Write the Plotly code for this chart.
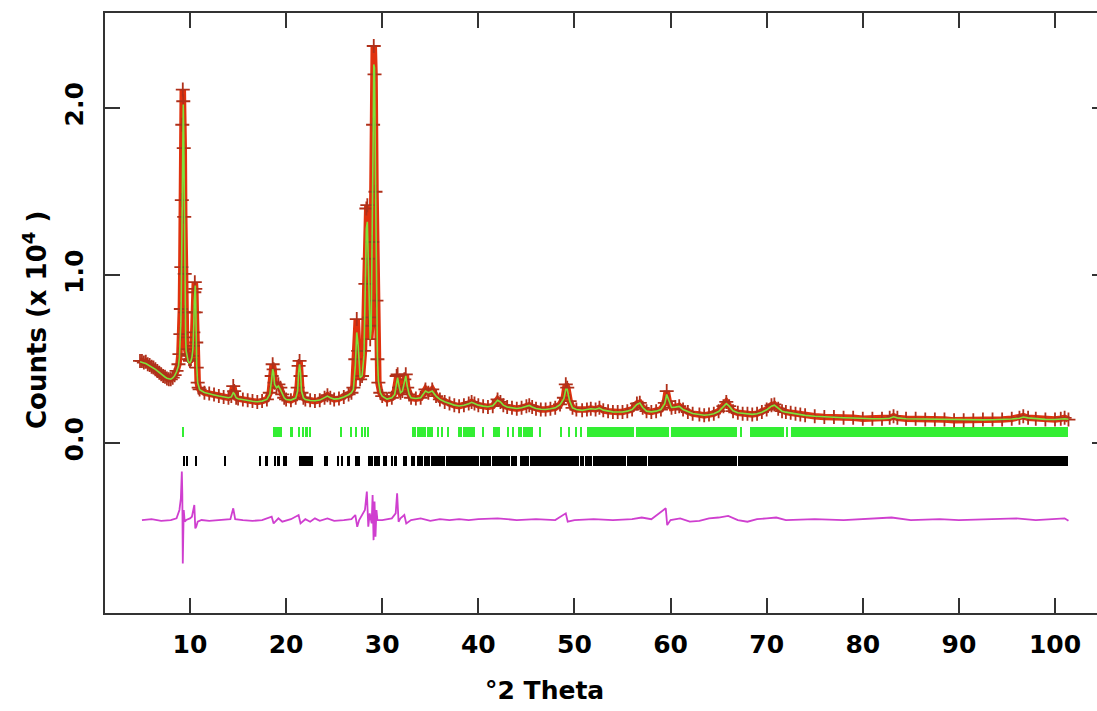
import plotly.graph_objects as go

# ---------------- data (counts in units of 10^4) ----------------
two_theta = [
    4.8, 5.0, 5.2, 5.4, 5.6, 5.8, 6.0, 6.2, 6.4, 6.6,
    6.8, 7.0, 7.2, 7.4, 7.6, 7.8, 8.0, 8.2, 8.4, 8.6,
    8.8, 8.9, 9.0, 9.05, 9.1, 9.15, 9.2, 9.25, 9.3, 9.35,
    9.4, 9.45, 9.5, 9.55, 9.6, 9.7, 9.8, 9.9, 10.0, 10.1,
    10.2, 10.3, 10.35, 10.4, 10.45, 10.5, 10.55, 10.6, 10.65, 10.7,
    10.8, 10.9, 11.0, 11.5, 12.0, 12.5, 13.0, 13.5, 14.0, 14.3,
    14.5, 14.6, 14.8, 15.0, 15.5, 16.0, 16.5, 17.0, 17.5, 18.0,
    18.3, 18.5, 18.6, 18.7, 18.8, 19.0, 19.2, 19.4, 19.6, 19.8,
    20.0, 20.5, 21.0, 21.2, 21.3, 21.4, 21.5, 21.6, 21.8, 22.0,
    22.5, 23.0, 23.5, 24.0, 24.3, 24.6, 25.0, 25.5, 26.0, 26.5,
    26.8, 27.0, 27.2, 27.35, 27.5, 27.7, 27.9, 28.1, 28.25, 28.35,
    28.45, 28.55, 28.65, 28.75, 28.85, 28.95, 29.05, 29.12, 29.2, 29.3,
    29.4, 29.5, 29.6, 29.8, 30.0, 30.5, 31.0, 31.3, 31.5, 31.6,
    31.75, 31.9, 32.1, 32.3, 32.45, 32.6, 32.8, 33.0, 33.5, 34.0,
    34.5, 34.8, 35.2, 35.6, 36.0, 36.5, 37.0, 37.5, 38.0, 38.5,
    39.0, 39.3, 39.6, 40.0, 40.5, 41.0, 41.5, 42.0, 42.3, 42.6,
    43.0, 43.5, 44.0, 44.5, 45.0, 45.3, 45.6, 46.0, 46.5, 47.0,
    47.5, 48.0, 48.5, 48.9, 49.1, 49.25, 49.5, 49.8, 50.2, 50.8,
    51.3, 51.7, 52.2, 52.6, 53.0, 53.5, 54.0, 54.5, 55.0, 55.5,
    56.0, 56.5, 56.8, 57.1, 57.5, 58.0, 58.5, 59.0, 59.4, 59.6,
    59.8, 60.1, 60.5, 60.9, 61.3, 61.8, 62.3, 63.0, 63.5, 64.0,
    64.5, 65.0, 65.5, 65.8, 66.1, 66.5, 67.0, 67.5, 68.0, 68.5,
    69.0, 69.5, 70.0, 70.5, 70.8, 71.2, 71.6, 72.0, 72.5, 73.0,
    73.5, 74.0, 75.0, 76.0, 77.0, 78.0, 79.0, 80.0, 81.0, 82.0,
    82.8, 83.2, 83.6, 84.5, 85.5, 86.5, 87.5, 88.5, 89.5, 90.5,
    91.5, 92.5, 93.5, 94.5, 95.5, 96.3, 96.7, 97.2, 98.0, 99.0,
    100.0, 100.6, 101.0, 101.4,
]

counts_obs = [
    0.49, 0.49, 0.48, 0.485, 0.47, 0.465, 0.455, 0.45, 0.44, 0.43,
    0.42, 0.41, 0.40, 0.395, 0.385, 0.38, 0.38, 0.39, 0.405, 0.43,
    0.47, 0.53, 0.65, 0.80, 1.05, 1.45, 1.90, 2.11, 2.04, 1.76,
    1.35, 1.01, 0.78, 0.63, 0.56, 0.53, 0.52, 0.50, 0.49, 0.50,
    0.52, 0.58, 0.66, 0.78, 0.90, 0.96, 0.92, 0.78, 0.60, 0.45,
    0.36, 0.33, 0.32, 0.30, 0.295, 0.29, 0.28, 0.275, 0.27, 0.28,
    0.34, 0.31, 0.27, 0.265, 0.26, 0.255, 0.25, 0.245, 0.25, 0.26,
    0.30, 0.40, 0.47, 0.44, 0.36, 0.33, 0.35, 0.33, 0.29, 0.27,
    0.26, 0.255, 0.27, 0.33, 0.46, 0.49, 0.40, 0.30, 0.27, 0.26,
    0.255, 0.25, 0.255, 0.27, 0.285, 0.27, 0.26, 0.265, 0.275, 0.29,
    0.30, 0.33, 0.50, 0.74, 0.55, 0.38, 0.40, 0.55, 0.95, 1.40,
    1.42, 1.10, 0.75, 0.62, 0.70, 1.20, 1.90, 2.37, 2.20, 1.50,
    0.85, 0.50, 0.36, 0.30, 0.28, 0.26, 0.27, 0.30, 0.40, 0.41,
    0.33, 0.30, 0.31, 0.38, 0.41, 0.33, 0.29, 0.27, 0.265, 0.27,
    0.32, 0.30, 0.32, 0.28, 0.26, 0.245, 0.235, 0.225, 0.22, 0.225,
    0.235, 0.245, 0.235, 0.225, 0.22, 0.215, 0.22, 0.26, 0.245, 0.225,
    0.215, 0.21, 0.205, 0.21, 0.22, 0.225, 0.215, 0.205, 0.20, 0.20,
    0.205, 0.21, 0.23, 0.27, 0.35, 0.33, 0.25, 0.21, 0.20, 0.195,
    0.20, 0.205, 0.20, 0.21, 0.195, 0.19, 0.185, 0.185, 0.185, 0.19,
    0.20, 0.235, 0.24, 0.21, 0.19, 0.185, 0.19, 0.20, 0.24, 0.31,
    0.25, 0.21, 0.215, 0.22, 0.20, 0.185, 0.175, 0.17, 0.165, 0.17,
    0.175, 0.19, 0.22, 0.245, 0.22, 0.19, 0.18, 0.175, 0.175, 0.17,
    0.175, 0.185, 0.20, 0.225, 0.23, 0.205, 0.19, 0.185, 0.18, 0.175,
    0.17, 0.165, 0.16, 0.155, 0.155, 0.15, 0.15, 0.145, 0.145, 0.145,
    0.15, 0.16, 0.15, 0.145, 0.145, 0.14, 0.14, 0.14, 0.135, 0.135,
    0.135, 0.14, 0.14, 0.14, 0.145, 0.15, 0.16, 0.15, 0.145, 0.14,
    0.14, 0.145, 0.15, 0.14,
]

counts_calc = [
    0.485, 0.483, 0.478, 0.474, 0.468, 0.462, 0.455, 0.448, 0.44, 0.43,
    0.42, 0.41, 0.402, 0.394, 0.387, 0.382, 0.381, 0.388, 0.402, 0.425,
    0.46, 0.51, 0.62, 0.72, 0.92, 1.20, 1.62, 1.98, 2.02, 1.82,
    1.40, 1.02, 0.76, 0.62, 0.55, 0.51, 0.49, 0.48, 0.48, 0.49,
    0.51, 0.56, 0.62, 0.72, 0.85, 0.93, 0.94, 0.82, 0.63, 0.46,
    0.36, 0.33, 0.318, 0.302, 0.293, 0.287, 0.28, 0.274, 0.27, 0.275,
    0.30, 0.295, 0.27, 0.264, 0.258, 0.253, 0.249, 0.246, 0.25, 0.26,
    0.29, 0.38, 0.44, 0.42, 0.35, 0.33, 0.34, 0.32, 0.29, 0.27,
    0.26, 0.256, 0.268, 0.31, 0.42, 0.47, 0.42, 0.31, 0.27, 0.26,
    0.254, 0.252, 0.256, 0.268, 0.28, 0.27, 0.262, 0.265, 0.274, 0.288,
    0.30, 0.32, 0.46, 0.66, 0.58, 0.39, 0.40, 0.52, 0.88, 1.28,
    1.32, 1.12, 0.78, 0.62, 0.68, 1.10, 1.78, 2.26, 2.24, 1.58,
    0.88, 0.52, 0.37, 0.30, 0.28, 0.262, 0.27, 0.29, 0.36, 0.39,
    0.34, 0.30, 0.31, 0.36, 0.40, 0.34, 0.29, 0.27, 0.266, 0.27,
    0.31, 0.30, 0.31, 0.28, 0.26, 0.246, 0.236, 0.226, 0.221, 0.225,
    0.234, 0.243, 0.236, 0.226, 0.22, 0.216, 0.222, 0.255, 0.245, 0.226,
    0.215, 0.21, 0.206, 0.21, 0.219, 0.224, 0.215, 0.206, 0.201, 0.20,
    0.204, 0.21, 0.228, 0.265, 0.32, 0.32, 0.25, 0.21, 0.20, 0.195,
    0.20, 0.204, 0.201, 0.208, 0.196, 0.19, 0.186, 0.185, 0.185, 0.19,
    0.20, 0.23, 0.238, 0.212, 0.19, 0.186, 0.19, 0.20, 0.235, 0.29,
    0.26, 0.212, 0.214, 0.218, 0.20, 0.186, 0.176, 0.17, 0.166, 0.169,
    0.175, 0.188, 0.215, 0.235, 0.22, 0.192, 0.18, 0.176, 0.174, 0.171,
    0.175, 0.184, 0.198, 0.22, 0.226, 0.206, 0.19, 0.184, 0.179, 0.175,
    0.17, 0.165, 0.16, 0.156, 0.154, 0.151, 0.149, 0.146, 0.145, 0.145,
    0.148, 0.156, 0.15, 0.145, 0.144, 0.141, 0.14, 0.139, 0.137, 0.136,
    0.136, 0.138, 0.139, 0.14, 0.143, 0.148, 0.155, 0.15, 0.145, 0.141,
    0.14, 0.143, 0.145, 0.142,
]

diff_theta = [
    5.0, 6.0, 7.0, 8.0, 8.6, 8.9, 9.05, 9.15, 9.2, 9.25,
    9.3, 9.35, 9.45, 9.6, 10.0, 10.2, 10.35, 10.45, 10.55, 10.65,
    10.8, 11.2, 12.0, 13.0, 14.2, 14.5, 14.7, 15.5, 16.5, 17.5,
    18.5, 18.7, 19.2, 19.6, 20.5, 21.3, 21.5, 22.0, 22.5, 23.0,
    23.5, 24.3, 25.0, 26.0, 26.8, 27.2, 27.4, 27.6, 28.2, 28.4,
    28.55, 28.7, 28.9, 29.0, 29.1, 29.2, 29.3, 29.4, 29.5, 30.0,
    30.5, 31.0, 31.4, 31.55, 31.7, 31.9, 32.3, 32.5, 33.0, 34.0,
    35.0, 36.0, 37.0, 38.0, 39.0, 40.0, 42.0, 44.0, 46.0, 48.0,
    49.1, 49.3, 50.0, 52.0, 54.0, 56.0, 57.0, 58.0, 59.5, 59.65,
    60.0, 61.0, 62.0, 63.0, 64.0, 65.0, 66.0, 67.0, 68.0, 69.0,
    70.0, 71.0, 72.0, 75.0, 78.0, 80.0, 83.0, 85.0, 88.0, 90.0,
    93.0, 96.0, 98.0, 101.0, 101.4,
]

diff_counts = [
    -0.46, -0.455, -0.465, -0.46, -0.45, -0.40, -0.33, -0.17, -0.30, -0.72,
    -0.55, -0.40, -0.47, -0.46, -0.45, -0.44, -0.38, -0.37, -0.51, -0.50,
    -0.47, -0.46, -0.465, -0.46, -0.455, -0.39, -0.455, -0.46, -0.465, -0.46,
    -0.44, -0.48, -0.45, -0.47, -0.455, -0.43, -0.48, -0.455, -0.47, -0.45,
    -0.465, -0.45, -0.465, -0.46, -0.455, -0.43, -0.50, -0.46, -0.40, -0.29,
    -0.50, -0.42, -0.48, -0.31, -0.58, -0.35, -0.56, -0.40, -0.46, -0.46,
    -0.455, -0.45, -0.42, -0.30, -0.47, -0.45, -0.43, -0.48, -0.46, -0.45,
    -0.465, -0.455, -0.46, -0.455, -0.46, -0.455, -0.45, -0.46, -0.455, -0.46,
    -0.42, -0.47, -0.46, -0.455, -0.46, -0.455, -0.445, -0.455, -0.39, -0.49,
    -0.46, -0.45, -0.47, -0.465, -0.45, -0.445, -0.435, -0.46, -0.47, -0.455,
    -0.45, -0.445, -0.46, -0.455, -0.46, -0.455, -0.445, -0.46, -0.455, -0.46,
    -0.455, -0.45, -0.46, -0.45, -0.465,
]

# reflection markers, phase 1 (green): single positions and continuous blocks
phase1_single = [9.27, 20.58, 21.4, 21.8, 22.15, 22.5, 25.78, 26.82, 27.34,
                 27.88, 28.2, 28.52, 35.81, 36.21, 36.85, 40.52, 43.1, 43.6,
                 46.4, 48.6, 49.5, 50.2, 50.7, 67.35, 72.15]
phase1_blocks = [(18.67, 19.53), (33.05, 33.5), (33.6, 34.6), (34.7, 35.3),
                 (37.9, 38.3), (38.4, 39.65), (41.55, 42.25), (44.1, 44.5),
                 (44.6, 45.7), (51.3, 56.2), (56.4, 59.8), (60.0, 66.9),
                 (68.3, 71.8), (72.5, 101.35)]

# reflection markers, phase 2 (black)
phase2_single = [9.38, 9.72, 10.62, 13.64, 17.35, 17.98, 24.05, 24.31,
                 25.4, 31.05, 32.25]
phase2_blocks = [(18.8, 18.9), (19.1, 19.4), (19.7, 20.06), (21.37, 22.83),
                 (25.8, 25.95), (26.3, 26.6), (27.17, 27.7), (28.5, 29.05),
                 (29.15, 29.8), (30.1, 30.5), (31.25, 31.5), (32.4, 32.6),
                 (33.0, 33.1), (33.3, 33.4), (33.6, 34.2), (34.35, 35.0),
                 (35.1, 36.5), (36.6, 40.05), (40.15, 41.35), (41.45, 43.25),
                 (43.35, 44.05), (44.35, 45.25), (45.35, 50.45), (50.55, 50.95),
                 (51.05, 51.85), (51.95, 55.35), (55.45, 57.55), (57.65, 66.95),
                 (67.05, 101.35)]

x_ticks = [10, 20, 30, 40, 50, 60, 70, 80, 90, 100]
y_ticks = [0.0, 1.0, 2.0]
y_tick_text = ["0.0", "1.0", "2.0"]

assert len(two_theta) == len(counts_obs) == len(counts_calc)
assert len(diff_theta) == len(diff_counts)

# ---------------- figure ----------------
FONT = "DejaVu Sans"
SINGLE_W = 0.17


def bars_from(singles, blocks):
    cx = [s for s in singles] + [(a + b) / 2 for a, b in blocks]
    w = [SINGLE_W for _ in singles] + [b - a for a, b in blocks]
    return cx, w


fig = go.Figure()

g_x, g_w = bars_from(phase1_single, phase1_blocks)
fig.add_trace(go.Bar(x=g_x, width=g_w, y=[0.06] * len(g_x), base=0.035,
                     marker=dict(color="#33ee33", line=dict(width=0)),
                     showlegend=False, hoverinfo="skip"))
b_x, b_w = bars_from(phase2_single, phase2_blocks)
fig.add_trace(go.Bar(x=b_x, width=b_w, y=[0.055] * len(b_x), base=-0.135,
                     marker=dict(color="#000000", line=dict(width=0)),
                     showlegend=False, hoverinfo="skip"))

# difference curve
fig.add_trace(go.Scatter(x=diff_theta, y=diff_counts, mode="lines",
                         line=dict(color="#cf3fcf", width=1.8),
                         showlegend=False))

# observed band
fig.add_trace(go.Scatter(x=two_theta, y=counts_obs, mode="lines",
                         line=dict(color="#e0320e", width=6.5),
                         showlegend=False))
# observed markers
fig.add_trace(go.Scatter(x=two_theta, y=counts_obs, mode="markers",
                         marker=dict(symbol="cross-thin", size=10,
                                     line=dict(color="#b0301a", width=1.8)),
                         showlegend=False))
# calculated
fig.add_trace(go.Scatter(x=two_theta, y=counts_calc, mode="lines",
                         line=dict(color="#7ee23a", width=1.6),
                         showlegend=False))

fig.update_layout(
    width=1097, height=711,
    margin=dict(l=105, r=0, t=13, b=98),
    paper_bgcolor="white", plot_bgcolor="white",
    barmode="overlay", bargap=0,
    font=dict(family=FONT, color="black"),
    xaxis=dict(range=[1.156, 104.37], tickvals=x_ticks,
               ticks="inside", ticklen=15, tickwidth=1.5, tickcolor="#333",
               showline=True, linecolor="#333", linewidth=1.5, mirror="ticks",
               showgrid=False, zeroline=False, ticklabelstandoff=8,
               tickfont=dict(family=FONT, size=25, color="black", weight="bold")),
    yaxis=dict(range=[-1.015, 2.567], tickvals=y_ticks, ticktext=y_tick_text,
               ticks="inside", ticklen=15, tickwidth=1.5, tickcolor="#333",
               showline=True, linecolor="#333", linewidth=1.5, mirror=False,
               showgrid=False, zeroline=False, tickangle=-90,
               ticklabelstandoff=10,
               tickfont=dict(family=FONT, size=25, color="black", weight="bold")),
    yaxis2=dict(range=[-1.015, 2.567], tickvals=y_ticks, overlaying="y",
                side="right", ticks="inside", ticklen=5, tickwidth=1.5,
                tickcolor="#333", showticklabels=False, showline=False,
                showgrid=False, zeroline=False),
    annotations=[
        dict(text="°2 Theta", xref="paper", yref="paper",
             x=(544 - 105) / 992, y=(613 - 690) / 600,
             xanchor="center", yanchor="middle", showarrow=False,
             font=dict(family=FONT, size=25, color="black", weight="bold")),
        dict(text="Counts (x 10<sup>4</sup> )", xref="paper", yref="paper",
             x=(35 - 105) / 992, y=(613 - 320) / 600, textangle=-90,
             xanchor="center", yanchor="middle", showarrow=False,
             font=dict(family=FONT, size=26, color="black", weight="bold")),
    ],
)
# empty trace on the right axis so its tick stubs render
fig.add_trace(go.Scatter(x=[None], y=[None], yaxis="y2", showlegend=False))

fig.write_html("out.html", config={"displayModeBar": False},
               post_script="document.body.style.margin='0';")
